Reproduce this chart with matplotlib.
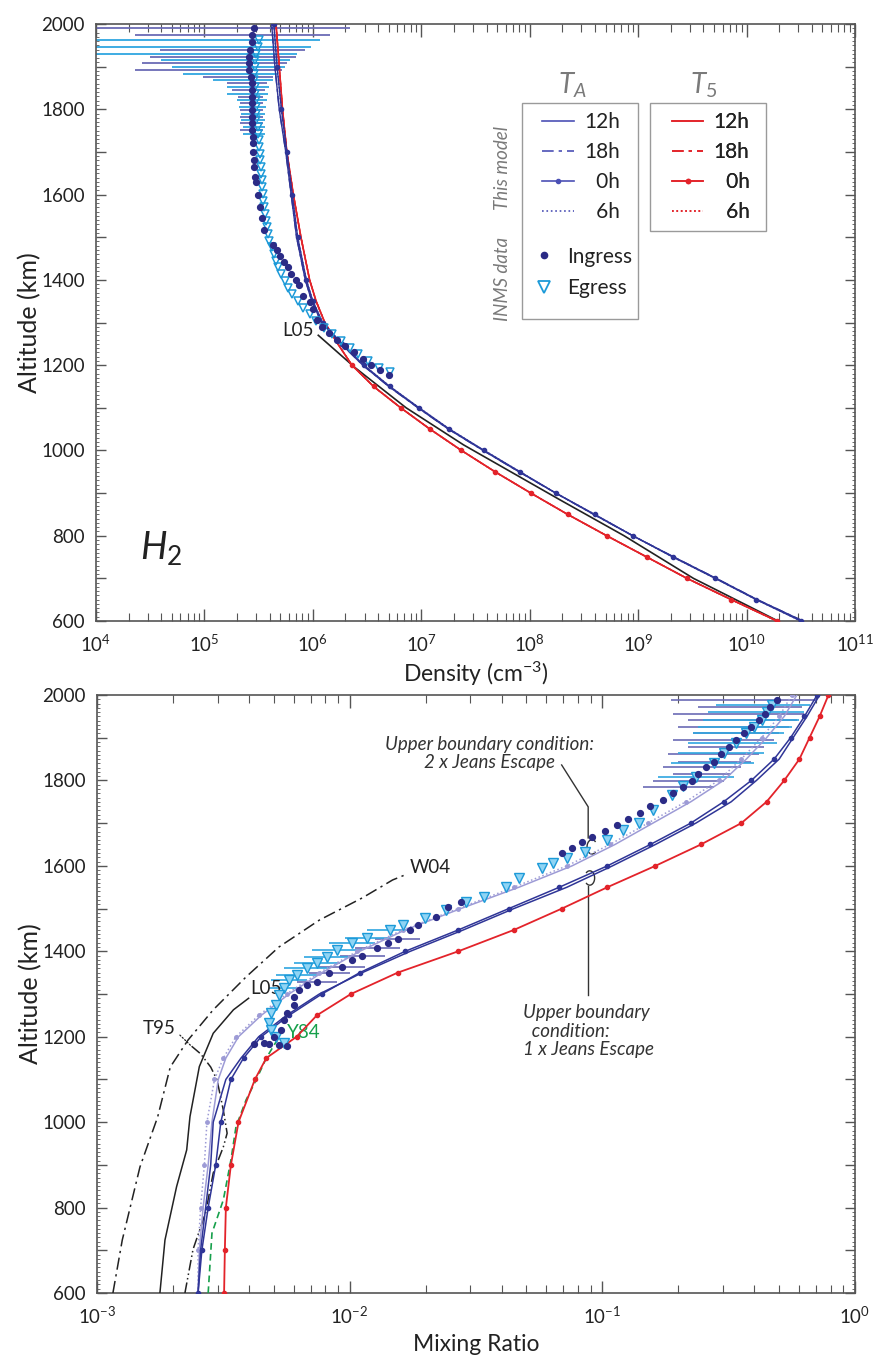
import numpy as np
import matplotlib
matplotlib.use("Agg")
import matplotlib.pyplot as plt
from matplotlib.lines import Line2D
from matplotlib.patches import Rectangle, Arc
from matplotlib.ticker import MultipleLocator, LogLocator, FixedLocator, FuncFormatter, NullFormatter

plt.rcParams['font.family'] = ['Lato', 'DejaVu Sans']
plt.rcParams['mathtext.fontset'] = 'custom'
plt.rcParams['mathtext.rm'] = 'Lato'
plt.rcParams['mathtext.it'] = 'Lato:italic'

# ---------------- data (log10 units) ----------------
# top panel: H2 density (cm^-3) vs altitude
alt_top = [600, 650, 700, 750, 800, 850, 900, 950, 1000, 1050, 1100, 1150, 1200,
           1250, 1300, 1350, 1400, 1500, 1600, 1700, 1800, 1900, 2000]
t5_log_n = [10.28, 9.86, 9.45, 9.08, 8.71, 8.35, 8.01, 7.68, 7.37, 7.08, 6.81, 6.56, 6.36,
            6.23, 6.11, 6.03, 5.97, 5.89, 5.82, 5.76, 5.72, 5.69, 5.66]
ta_day_log_n = [10.52, 10.10, 9.72, 9.33, 8.95, 8.59, 8.24, 7.90, 7.57, 7.25, 6.97, 6.70, 6.46,
                6.26, 6.08, 5.99, 5.93, 5.85, 5.80, 5.75, 5.69, 5.65, 5.62]
ta_night_log_n = [10.50, 10.09, 9.71, 9.32, 8.95, 8.60, 8.24, 7.91, 7.58, 7.26, 6.98, 6.71, 6.47,
                  6.27, 6.09, 6.00, 5.94, 5.86, 5.81, 5.76, 5.71, 5.67, 5.64]
l05_top_alt = [600, 700, 800, 884, 1013, 1100, 1194, 1270]
l05_top_log_n = [10.29, 9.51, 8.87, 8.28, 7.39, 6.86, 6.39, 6.05]

ing_top_alt = [1990, 1974, 1957, 1940, 1923, 1908, 1892, 1876, 1861, 1845, 1829, 1814, 1798,
               1782, 1767, 1751, 1735, 1720, 1700, 1681, 1665, 1641, 1630, 1600, 1570, 1545,
               1516, 1481, 1469, 1457, 1442, 1430, 1414, 1399, 1387, 1363, 1348, 1332, 1305,
               1290, 1275, 1260, 1245, 1230, 1215, 1200, 1188, 1178]
ing_top_log_n = [5.46, 5.44, 5.44, 5.42, 5.41, 5.41, 5.41, 5.43, 5.44, 5.44, 5.44, 5.44, 5.44,
                 5.44, 5.44, 5.44, 5.45, 5.45, 5.45, 5.46, 5.46, 5.47, 5.48, 5.49, 5.51, 5.53,
                 5.55, 5.63, 5.67, 5.70, 5.73, 5.77, 5.80, 5.84, 5.87, 5.91, 5.97, 6.00, 6.04,
                 6.08, 6.15, 6.22, 6.30, 6.38, 6.46, 6.54, 6.62, 6.70]
egr_top_alt = [1962, 1946, 1930, 1915, 1899, 1883, 1868, 1852, 1836, 1821, 1805, 1789, 1774,
               1758, 1742, 1727, 1711, 1695, 1680, 1664, 1648, 1633, 1617, 1601, 1586, 1570,
               1554, 1539, 1523, 1507, 1492, 1476, 1460, 1445, 1429, 1413, 1398, 1382, 1366,
               1351, 1335, 1319, 1304, 1288, 1272, 1257, 1241, 1225, 1210, 1194, 1183]
egr_top_log_n = [5.50, 5.49, 5.48, 5.47, 5.47, 5.46, 5.46, 5.47, 5.47, 5.48, 5.48, 5.48, 5.48,
                 5.49, 5.49, 5.50, 5.50, 5.51, 5.51, 5.52, 5.52, 5.53, 5.53, 5.54, 5.54, 5.55,
                 5.56, 5.57, 5.58, 5.59, 5.60, 5.62, 5.64, 5.66, 5.68, 5.71, 5.74, 5.77, 5.81,
                 5.86, 5.91, 5.97, 6.03, 6.10, 6.18, 6.26, 6.34, 6.42, 6.51, 6.61, 6.71]
# horizontal error bars (lower / upper bound, log10)
ing_top_bar_alt = [1990, 1974, 1940, 1923, 1908, 1892, 1876, 1861, 1845, 1829, 1814, 1798, 1782, 1767, 1751]
ing_top_bar_lo = [3.0, 4.36, 4.59, 4.50, 4.42, 4.36, 4.99, 5.21, 5.25, 5.31, 5.33, 5.33, 5.33, 5.33, 5.33]
ing_top_bar_hi = [6.34, 6.16, 5.93, 5.84, 5.76, 5.72, 5.63, 5.58, 5.56, 5.54, 5.54, 5.54, 5.54, 5.54, 5.54]
egr_top_bar_alt = [1962, 1946, 1930, 1915, 1899, 1883, 1868, 1852, 1836, 1821, 1805, 1789, 1774, 1758, 1742]
egr_top_bar_lo = [3.0, 3.0, 3.0, 4.60, 4.70, 4.80, 5.08, 5.21, 5.21, 5.30, 5.32, 5.34, 5.34, 5.36, 5.36]
egr_top_bar_hi = [6.07, 5.98, 5.85, 5.79, 5.74, 5.68, 5.63, 5.60, 5.59, 5.58, 5.57, 5.56, 5.56, 5.56, 5.56]

# bottom panel: H2 mixing ratio vs altitude
alt_bot = [600, 700, 800, 900, 1000, 1100, 1150, 1200, 1250, 1300, 1350, 1400, 1450,
           1500, 1550, 1600, 1650, 1700, 1750, 1800, 1850, 1900, 1950, 2000]
t5_log_x = [-2.497, -2.494, -2.49, -2.47, -2.44, -2.375, -2.33, -2.21, -2.13, -1.995, -1.81, -1.57, -1.35,
            -1.16, -0.98, -0.79, -0.61, -0.45, -0.35, -0.28, -0.22, -0.18, -0.14, -0.105]
ta1_day_log_x = [-2.60, -2.59, -2.57, -2.55, -2.54, -2.49, -2.43, -2.36, -2.25, -2.12, -1.95, -1.76, -1.55,
                 -1.35, -1.14, -0.96, -0.79, -0.63, -0.49, -0.39, -0.30, -0.245, -0.19, -0.14]
ta1_night_log_x = [-2.60, -2.585, -2.56, -2.53, -2.51, -2.47, -2.42, -2.35, -2.24, -2.11, -1.96, -1.78, -1.57,
                   -1.37, -1.17, -0.98, -0.81, -0.65, -0.52, -0.41, -0.32, -0.255, -0.20, -0.15]
ta2_day_log_x = [-2.60, -2.595, -2.58, -2.56, -2.545, -2.52, -2.49, -2.44, -2.35, -2.24, -2.11, -1.96, -1.78,
                 -1.56, -1.33, -1.12, -0.95, -0.80, -0.65, -0.52, -0.43, -0.35, -0.28, -0.23]
ta2_night_log_x = [-2.60, -2.60, -2.59, -2.575, -2.565, -2.535, -2.50, -2.45, -2.36, -2.25, -2.12, -1.97, -1.79,
                   -1.57, -1.35, -1.14, -0.97, -0.82, -0.67, -0.54, -0.45, -0.37, -0.30, -0.25]
w04_alt = [600, 724, 895, 1012, 1129, 1192, 1263, 1340, 1410, 1473, 1525, 1567, 1579]
w04_log_x = [-2.937, -2.90, -2.83, -2.76, -2.71, -2.64, -2.54, -2.41, -2.28, -2.12, -1.95, -1.83, -1.78]
l05_bot_alt = [600, 724, 849, 935, 1013, 1130, 1208, 1263, 1290]
l05_bot_log_x = [-2.751, -2.731, -2.685, -2.645, -2.632, -2.595, -2.54, -2.46, -2.40]
t95_alt = [600, 702, 788, 881, 942, 974, 1028, 1099, 1129, 1160, 1180]
t95_log_x = [-2.652, -2.62, -2.57, -2.54, -2.50, -2.485, -2.50, -2.525, -2.55, -2.59, -2.63]
y84_alt = [600, 740, 818, 911, 989, 1052, 1099, 1150, 1199]
y84_log_x = [-2.56, -2.545, -2.50, -2.47, -2.45, -2.41, -2.37, -2.33, -2.28]

ing_bot_alt = [1988, 1972, 1956, 1942, 1925, 1911, 1895, 1878, 1862, 1843, 1831, 1815, 1799,
               1784, 1770, 1754, 1740, 1724, 1710, 1696, 1682, 1668, 1655, 1642, 1630, 1515,
               1504, 1480, 1461, 1450, 1429, 1419, 1408, 1389, 1380, 1363, 1349, 1328, 1321,
               1309, 1293, 1274, 1255, 1239, 1216, 1199, 1185, 1183, 1182, 1180, 1179]
ing_bot_log_x = [-0.31, -0.336, -0.356, -0.38, -0.41, -0.44, -0.47, -0.50, -0.53, -0.56, -0.59, -0.62, -0.645,
                 -0.68, -0.72, -0.76, -0.81, -0.85, -0.90, -0.94, -0.99, -1.04, -1.08, -1.12, -1.16, -1.56,
                 -1.61, -1.66, -1.73, -1.76, -1.81, -1.85, -1.89, -1.95, -1.99, -2.03, -2.08, -2.13, -2.17,
                 -2.20, -2.22, -2.22, -2.25, -2.26, -2.27, -2.30, -2.34, -2.38, -2.32, -2.28, -2.25]
egr_bot_alt = [1977, 1960, 1942, 1926, 1911, 1887, 1864, 1840, 1808, 1787, 1766, 1731, 1700,
               1684, 1661, 1633, 1618, 1607, 1595, 1571, 1551, 1527, 1515, 1497, 1478, 1461,
               1450, 1431, 1419, 1403, 1387, 1373, 1361, 1345, 1333, 1314, 1298, 1274, 1255,
               1232, 1216, 1199, 1185]
egr_bot_log_x = [-0.33, -0.35, -0.37, -0.40, -0.43, -0.47, -0.52, -0.56, -0.63, -0.68, -0.725, -0.80, -0.855,
                 -0.92, -0.98, -1.07, -1.14, -1.195, -1.24, -1.33, -1.38, -1.47, -1.54, -1.62, -1.70, -1.79,
                 -1.84, -1.93, -1.99, -2.05, -2.09, -2.13, -2.17, -2.21, -2.24, -2.26, -2.28, -2.29, -2.31,
                 -2.32, -2.31, -2.29, -2.26]
ing_bot_bar_alt = [1988, 1972, 1956, 1942, 1925, 1911, 1895, 1878, 1862, 1843, 1831, 1815, 1799, 1784,
                   1429, 1408, 1389, 1363, 1349, 1328]
ing_bot_bar_lo = [-0.73, -0.62, -0.72, -0.66, -0.70, -0.64, -0.72, -0.66, -0.74, -0.70, -0.76, -0.72, -0.80, -0.84,
                  -1.90, -1.98, -2.04, -2.12, -2.16, -2.21]
ing_bot_bar_hi = [-0.15, -0.21, -0.20, -0.23, -0.26, -0.30, -0.32, -0.36, -0.38, -0.41, -0.45, -0.49, -0.52, -0.56,
                  -1.72, -1.80, -1.86, -1.94, -2.00, -2.05]
egr_bot_bar_alt = [1977, 1960, 1942, 1926, 1911, 1887, 1864, 1840, 1808,
                   1450, 1431, 1419, 1403, 1387, 1373, 1361, 1345, 1333, 1314]
egr_bot_bar_lo = [-0.55, -0.58, -0.60, -0.62, -0.64, -0.66, -0.70, -0.73, -0.78,
                  -1.93, -2.02, -2.08, -2.15, -2.18, -2.22, -2.26, -2.29, -2.31, -2.32]
egr_bot_bar_hi = [-0.18, -0.20, -0.22, -0.25, -0.28, -0.31, -0.36, -0.40, -0.48,
                  -1.75, -1.84, -1.90, -1.95, -2.00, -2.04, -2.08, -2.13, -2.17, -2.20]

# ---------------- colours / styles ----------------
RED = '#e3232a'
BLUE = '#2f3597'
BLUE_LEG = '#4b50b5'
LAV = '#9d9bd6'
ING = '#2b2b86'
EGR = '#1c9ad8'
ING_BAR = '#6b6bb5'
EGR_BAR = '#2fa6e0'
GREEN = '#16a04b'
INK = '#222222'
GRAY = '#7a7a7a'

DASHDOT = (0, (7, 3, 2, 3))


def p10(v):
    return 10 ** np.asarray(v, dtype=float)


def style_axes(ax, lo_dec, hi_dec):
    ax.set_xscale('log')
    ax.set_xlim(10.0 ** lo_dec, 10.0 ** hi_dec)
    ax.set_ylim(600, 2000)
    ax.yaxis.set_major_locator(MultipleLocator(100))
    ax.yaxis.set_minor_locator(MultipleLocator(10))
    ax.yaxis.set_major_formatter(FuncFormatter(lambda v, p: f'{int(round(v))}' if int(round(v)) % 200 == 0 else ''))
    # only the decades inside the axis get a (labelled) major tick
    ax.xaxis.set_major_locator(FixedLocator(np.logspace(lo_dec, hi_dec, hi_dec - lo_dec + 1)))
    ax.xaxis.set_minor_locator(LogLocator(base=10, subs=np.arange(2, 10), numticks=20))
    ax.xaxis.set_minor_formatter(NullFormatter())
    ax.tick_params(which='both', direction='in', top=True, right=True, color='#555555',
                   labelcolor=INK, labelsize=13.5)
    ax.tick_params(axis='y', which='major', length=7, width=1.0, pad=8)
    ax.tick_params(axis='y', which='minor', length=2.5, width=0.6)
    ax.tick_params(axis='x', which='major', length=9, width=1.0, pad=9)
    ax.tick_params(axis='x', which='minor', length=6, width=0.8)
    for s in ax.spines.values():
        s.set_color('#555555')
        s.set_linewidth(1.2)


fig = plt.figure(figsize=(8.74, 13.56), dpi=100)
ax1 = fig.add_axes([96 / 874, 1 - 621 / 1356, 759 / 874, 597 / 1356])
ax2 = fig.add_axes([97 / 874, 1 - 1293 / 1356, 758 / 874, 598 / 1356])

# ================= top panel: density =================
ax1.hlines(ing_top_bar_alt, p10(ing_top_bar_lo), p10(ing_top_bar_hi), colors=ING_BAR, lw=1.3, zorder=2)
ax1.hlines(egr_top_bar_alt, p10(egr_top_bar_lo), p10(egr_top_bar_hi), colors=EGR_BAR, lw=1.3, zorder=2)

ax1.plot(p10(l05_top_log_n), l05_top_alt, color=INK, lw=1.2, zorder=3)

ax1.plot(p10(t5_log_n), alt_top, color=RED, lw=1.2, zorder=4)
ax1.plot(p10(t5_log_n), alt_top, color=RED, lw=1.0, ls=DASHDOT, zorder=4)
ax1.plot(p10(t5_log_n), alt_top, color=RED, lw=1.0, marker='o', ms=3, markevery=slice(0, 13), zorder=4)
ax1.plot(p10(t5_log_n), alt_top, color=RED, lw=1.0, ls=':', zorder=4)

ax1.plot(p10(ta_day_log_n), alt_top, color=BLUE, lw=1.0, zorder=5)
ax1.plot(p10(ta_day_log_n), alt_top, color=BLUE, lw=1.0, ls=DASHDOT, zorder=5)
ax1.plot(p10(ta_night_log_n), alt_top, color=BLUE, lw=1.0, marker='o', ms=3, zorder=5)
ax1.plot(p10(ta_night_log_n), alt_top, color=BLUE, lw=1.0, ls=':', zorder=5)

ax1.plot(p10(egr_top_log_n), egr_top_alt, ls='none', marker='v', ms=5.5, mfc='none', mec=EGR, mew=1.1, zorder=6)
ax1.plot(p10(ing_top_log_n), ing_top_alt, ls='none', marker='o', ms=4.2, color=ING, zorder=7)

style_axes(ax1, 4, 11)
ax1.set_xlabel(r'Density (cm$^{\mathdefault{-3}}$)', fontsize=16.5, color=INK, va='center')
ax1.set_ylabel('Altitude (km)', fontsize=18, color=INK, va='center')
ax1.xaxis.set_label_coords(0.5, -0.088)
ax1.yaxis.set_label_coords(-0.087, 0.5)

ax1.text(0.246, 0.487, 'L05', transform=ax1.transAxes, fontsize=13.5, va='center', color=INK)
ax1.text(0.058, 0.122, r'$\mathit{H_2}$', transform=ax1.transAxes, fontsize=27, va='center', color=INK)

# legends
leg_kw = dict(frameon=False, fontsize=15, borderpad=0, borderaxespad=0, labelcolor=INK)
h12 = Line2D([], [], color=BLUE_LEG, lw=1.2)
h18 = Line2D([], [], color=BLUE_LEG, lw=1.2, ls=DASHDOT)
h0 = Line2D([], [], color=BLUE_LEG, lw=1.2, marker='o', ms=3)
h6 = Line2D([], [], color=BLUE_LEG, lw=1.2, ls=':')
r12 = Line2D([], [], color=RED, lw=1.2)
r18 = Line2D([], [], color=RED, lw=1.2, ls=DASHDOT)
r0 = Line2D([], [], color=RED, lw=1.2, marker='o', ms=3)
r6 = Line2D([], [], color=RED, lw=1.2, ls=':')
hi_ = Line2D([], [], ls='none', marker='o', ms=4.5, color=ING)
he_ = Line2D([], [], ls='none', marker='v', ms=8, mfc='none', mec=EGR, mew=1.3)
hour_labels = ['12h', '18h', '\u20070h', '\u20076h']

leg_ta = ax1.legend([h12, h18, h0, h6], hour_labels, loc='center left', bbox_to_anchor=(0.588, 0.760),
                    handlelength=1.5, handletextpad=0.5, labelspacing=0.48, **leg_kw)
ax1.add_artist(leg_ta)
leg_data = ax1.legend([hi_, he_], ['Ingress', 'Egress'], loc='center left', bbox_to_anchor=(0.582, 0.584),
                      handlelength=0.6, handletextpad=0.8, labelspacing=0.55, **leg_kw)
ax1.add_artist(leg_data)
leg_t5 = ax1.legend([r12, r18, r0, r6], hour_labels, loc='center left', bbox_to_anchor=(0.759, 0.760),
                    handlelength=1.5, handletextpad=0.5, labelspacing=0.48, **leg_kw)
ax1.add_artist(leg_t5)
ax1.add_patch(Rectangle((0.561, 0.506), 0.153, 0.362, transform=ax1.transAxes, fill=False,
                        ec='#9a9a9a', lw=1.0, zorder=8))
ax1.add_patch(Rectangle((0.730, 0.653), 0.153, 0.215, transform=ax1.transAxes, fill=False,
                        ec='#9a9a9a', lw=1.0, zorder=8))
ax1.text(0.628, 0.898, r'$\mathit{T_A}$', transform=ax1.transAxes, fontsize=20, color=GRAY, ha='center', va='center')
ax1.text(0.800, 0.898, r'$\mathit{T_5}$', transform=ax1.transAxes, fontsize=20, color=GRAY, ha='center', va='center')
ax1.text(0.535, 0.759, 'This model', transform=ax1.transAxes, fontsize=13.5, style='italic', color=GRAY,
         rotation=90, ha='center', va='center')
ax1.text(0.535, 0.573, 'INMS data', transform=ax1.transAxes, fontsize=13.5, style='italic', color=GRAY,
         rotation=90, ha='center', va='center')

# ================= bottom panel: mixing ratio =================
ax2.hlines(ing_bot_bar_alt, p10(ing_bot_bar_lo), p10(ing_bot_bar_hi), colors=ING_BAR, lw=1.2, zorder=2)
ax2.hlines(egr_bot_bar_alt, p10(egr_bot_bar_lo), p10(egr_bot_bar_hi), colors=EGR_BAR, lw=1.2, zorder=2)

ax2.plot(p10(w04_log_x), w04_alt, color=INK, lw=1.1, ls=(0, (8, 3, 1.5, 3)), zorder=3)
ax2.plot(p10(l05_bot_log_x), l05_bot_alt, color=INK, lw=1.1, zorder=3)
ax2.plot(p10(t95_log_x), t95_alt, color=INK, lw=1.1, ls=(0, (7, 2, 1, 2, 1, 2)), zorder=3)
ax2.plot(p10(y84_log_x), y84_alt, color=GREEN, lw=1.2, ls=(0, (4, 2.5)), zorder=3)

ax2.plot(p10(ta2_day_log_x), alt_bot, color=LAV, lw=1.1, zorder=4)
ax2.plot(p10(ta2_night_log_x), alt_bot, color=LAV, lw=1.1, ls=':', marker='o', ms=2.5, zorder=4)
ax2.plot(p10(ta1_day_log_x), alt_bot, color=BLUE, lw=1.1, zorder=4)
ax2.plot(p10(ta1_night_log_x), alt_bot, color=BLUE, lw=1.1, marker='o', ms=3, zorder=4)
ax2.plot(p10(t5_log_x), alt_bot, color=RED, lw=1.3, marker='o', ms=3, zorder=4)

ax2.plot(p10(egr_bot_log_x), egr_bot_alt, ls='none', marker='v', ms=6.5, mfc='#8fd4f4', mec=EGR, mew=1.0, zorder=6)
ax2.plot(p10(ing_bot_log_x), ing_bot_alt, ls='none', marker='o', ms=4.2, color=ING, zorder=7)

style_axes(ax2, -3, 0)
ax2.set_xlabel('Mixing Ratio', fontsize=16.5, color=INK, va='center')
ax2.set_ylabel('Altitude (km)', fontsize=18, color=INK, va='center')
ax2.xaxis.set_label_coords(0.5, -0.086)
ax2.yaxis.set_label_coords(-0.087, 0.5)

ax2.text(0.413, 0.712, 'W04', transform=ax2.transAxes, fontsize=13.5, va='center', color=INK)
ax2.text(0.202, 0.510, 'L05', transform=ax2.transAxes, fontsize=13.5, va='center', color=INK)
ax2.text(0.251, 0.436, 'Y84', transform=ax2.transAxes, fontsize=13.5, va='center', color=GREEN)
ax2.annotate('T95', xy=(10 ** t95_log_x[-1], t95_alt[-1]), xycoords='data',
             xytext=(0.061, 0.443), textcoords='axes fraction', fontsize=13.5, va='center', color=INK,
             arrowprops=dict(arrowstyle='-', ls=':', color=INK, lw=0.9, shrinkA=1, shrinkB=0, relpos=(1, 0.3)))

ax2.text(0.518, 0.902, 'Upper boundary condition:\n2 x Jeans Escape', transform=ax2.transAxes,
         fontsize=13.5, style='italic', color='#333333', ha='center', va='center', linespacing=1.1)
ax2.text(0.562, 0.438, 'Upper boundary\n  condition:\n1 x Jeans Escape', transform=ax2.transAxes,
         fontsize=13.5, style='italic', color='#333333', ha='left', va='center', linespacing=1.1)
ax2.plot([0.613, 0.648, 0.648], [0.883, 0.813, 0.761], transform=ax2.transAxes, color='#333333', lw=1.0)
ax2.plot([0.648, 0.648], [0.681, 0.498], transform=ax2.transAxes, color='#333333', lw=1.0)
ax2.add_patch(Arc((0.653, 0.746), 0.013, 0.024, theta1=60, theta2=300, transform=ax2.transAxes,
                  color='#333333', lw=1.0))
ax2.add_patch(Arc((0.650, 0.694), 0.013, 0.024, theta1=-120, theta2=120, transform=ax2.transAxes,
                  color='#333333', lw=1.0))

fig.savefig('out.png', dpi=100)
